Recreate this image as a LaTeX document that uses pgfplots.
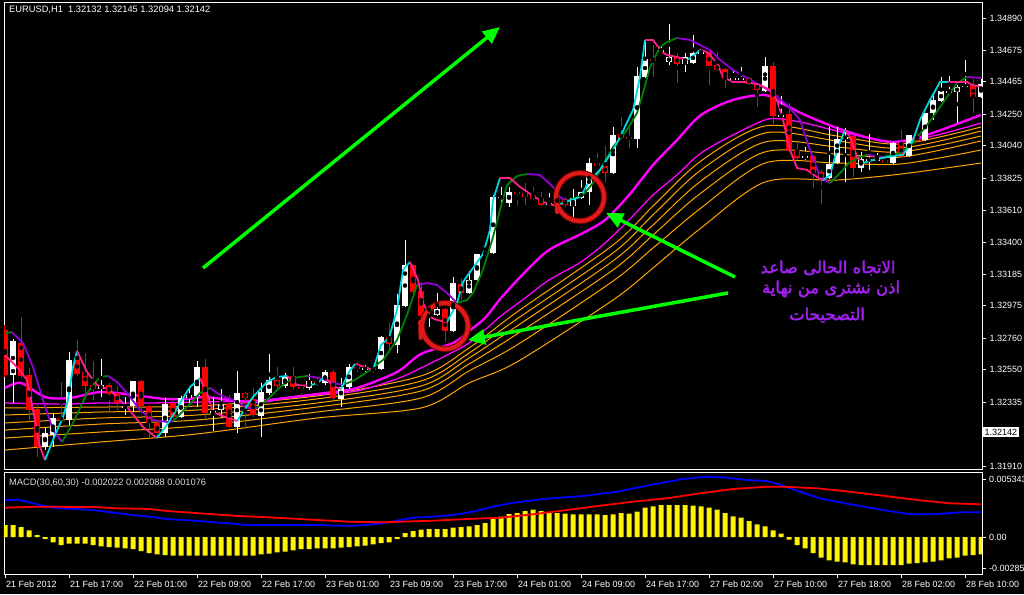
\documentclass[border=0pt]{standalone}
\usepackage{pgfplots}
\pgfplotsset{compat=1.18}
\usepackage{pgfplotstable}
\usepackage{fontspec}
\setmainfont{Liberation Sans}
\newfontfamily\arabicfont[Script=Arabic,FakeBold=2.6]{DejaVu Sans}
\TeXXeTstate=1
\usetikzlibrary{arrows.meta}
\definecolor{mtcyan}{RGB}{0,215,225}
\definecolor{mtpink}{RGB}{255,30,140}
\definecolor{mtgreen}{RGB}{0,128,0}
\definecolor{mtpurple}{RGB}{148,0,211}
\definecolor{mtmag}{RGB}{255,0,255}
\definecolor{mtorange}{RGB}{255,165,0}
\definecolor{mtred}{RGB}{255,0,0}
\definecolor{mtlime}{RGB}{0,255,0}
\definecolor{artext}{RGB}{160,32,240}
\definecolor{ringred}{RGB}{225,25,25}
\pgfplotsset{
  cy/.style={mtcyan, line width=1.8pt, line join=round},
  pk/.style={mtpink, line width=1.8pt, line join=round},
  gr/.style={mtgreen, line width=1.8pt, line join=round},
  pu/.style={mtpurple, line width=1.8pt, line join=round},
}
\pgfplotstableread{
i o h l c
1 1.32515 1.32755 1.32329 1.32741
5 1.32036 1.32163 1.32016 1.32129
6 1.32116 1.32262 1.32036 1.32229
8 1.32216 1.32668 1.32183 1.32615
12 1.32422 1.32622 1.32369 1.32449
15 1.32296 1.32369 1.32249 1.32309
16 1.32309 1.32475 1.32269 1.32475
20 1.32129 1.32362 1.32103 1.32322
22 1.32236 1.32376 1.32229 1.32362
23 1.32362 1.32435 1.32329 1.32382
24 1.32376 1.32608 1.32302 1.32568
26 1.32262 1.32369 1.32143 1.32276
27 1.32282 1.32422 1.32236 1.32322
29 1.32169 1.32542 1.32129 1.32395
32 1.32243 1.32462 1.32103 1.32402
33 1.32395 1.32655 1.32382 1.32482
35 1.32442 1.32529 1.32429 1.32502
38 1.32429 1.32522 1.32415 1.32475
40 1.32462 1.32549 1.32449 1.32535
42 1.32356 1.32495 1.32302 1.32435
43 1.32435 1.32588 1.32422 1.32568
45 1.32549 1.32582 1.32535 1.32562
47 1.32555 1.32775 1.32549 1.32768
49 1.32715 1.33054 1.32662 1.32981
50 1.32974 1.33413 1.32968 1.33247
53 1.32948 1.32981 1.32835 1.32954
54 1.32914 1.33061 1.32908 1.32954
56 1.32808 1.33167 1.32801 1.33127
58 1.33061 1.33207 1.33054 1.33147
59 1.33147 1.33307 1.33140 1.33320
60 1.33320 1.33393 1.33307 1.33327
61 1.33327 1.33712 1.33320 1.33699
62 1.33693 1.33766 1.33633 1.33699
63 1.33659 1.33766 1.33633 1.33732
68 1.33653 1.33726 1.33639 1.33659
71 1.33639 1.33752 1.33546 1.33693
72 1.33693 1.33812 1.33686 1.33732
73 1.33732 1.33959 1.33646 1.33925
76 1.33859 1.34165 1.33852 1.34112
79 1.34085 1.34564 1.34025 1.34504
80 1.34498 1.34750 1.34491 1.34617
82 1.34670 1.34697 1.34657 1.34677
83 1.34597 1.34850 1.34577 1.34631
85 1.34584 1.34657 1.34531 1.34631
86 1.34591 1.34777 1.34584 1.34657
87 1.34657 1.34677 1.34651 1.34664
91 1.34484 1.34544 1.34478 1.34491
92 1.34484 1.34564 1.34478 1.34491
95 1.34404 1.34631 1.34398 1.34571
97 1.34238 1.34371 1.34232 1.34245
100 1.33959 1.34032 1.33945 1.33972
103 1.33826 1.34165 1.33819 1.33919
104 1.33925 1.34165 1.33919 1.34085
105 1.34092 1.34158 1.33799 1.34098
107 1.33892 1.33999 1.33866 1.33952
108 1.33945 1.34118 1.33879 1.33952
109 1.33945 1.33992 1.33939 1.33952
111 1.33925 1.34065 1.33919 1.34058
113 1.33972 1.34112 1.33965 1.34112
115 1.34078 1.34258 1.34072 1.34258
116 1.34258 1.34378 1.34212 1.34345
117 1.34338 1.34498 1.34331 1.34404
118 1.34398 1.34504 1.34391 1.34404
119 1.34398 1.34444 1.34192 1.34431
120 1.34431 1.34611 1.34424 1.34438
122 1.34364 1.34484 1.34358 1.34451
}\bull
\pgfplotstableread{
i o h l c
0 1.32815 1.32848 1.32502 1.32515
2 1.32728 1.32901 1.32495 1.32509
3 1.32515 1.32562 1.32203 1.32282
4 1.32289 1.32316 1.31970 1.32036
7 1.32229 1.32469 1.32196 1.32223
9 1.32622 1.32748 1.32509 1.32522
10 1.32535 1.32662 1.32382 1.32442
11 1.32449 1.32608 1.32349 1.32422
13 1.32449 1.32462 1.32262 1.32389
14 1.32395 1.32442 1.32282 1.32329
17 1.32475 1.32482 1.32262 1.32309
18 1.32309 1.32316 1.32103 1.32196
19 1.32196 1.32216 1.32096 1.32129
21 1.32329 1.32342 1.32223 1.32236
25 1.32568 1.32622 1.32229 1.32262
28 1.32322 1.32382 1.32163 1.32169
30 1.32395 1.32402 1.32156 1.32362
31 1.32356 1.32429 1.32236 1.32249
34 1.32482 1.32568 1.32429 1.32442
36 1.32509 1.32568 1.32422 1.32435
37 1.32435 1.32449 1.32369 1.32422
39 1.32475 1.32495 1.32442 1.32462
41 1.32535 1.32549 1.32349 1.32362
44 1.32568 1.32602 1.32535 1.32555
46 1.32562 1.32575 1.32529 1.32549
48 1.32768 1.32861 1.32662 1.32721
51 1.33247 1.33254 1.33027 1.33067
52 1.33074 1.33134 1.32894 1.32908
55 1.32954 1.32961 1.32735 1.32808
57 1.33120 1.33160 1.33014 1.33061
64 1.33732 1.33739 1.33646 1.33726
65 1.33726 1.33792 1.33646 1.33699
66 1.33712 1.33766 1.33679 1.33686
67 1.33693 1.33732 1.33639 1.33646
69 1.33686 1.33712 1.33639 1.33666
70 1.33686 1.33699 1.33633 1.33646
74 1.33925 1.33992 1.33899 1.33905
75 1.33905 1.34038 1.33799 1.33859
77 1.34118 1.34232 1.34085 1.34092
78 1.34098 1.34165 1.34025 1.34085
81 1.34617 1.34710 1.34498 1.34611
84 1.34631 1.34657 1.34458 1.34584
88 1.34664 1.34670 1.34444 1.34571
89 1.34577 1.34664 1.34537 1.34544
90 1.34551 1.34557 1.34424 1.34484
93 1.34491 1.34498 1.34444 1.34451
94 1.34451 1.34457 1.34298 1.34411
96 1.34571 1.34597 1.34165 1.34238
98 1.34251 1.34324 1.33999 1.34005
99 1.34012 1.34058 1.33945 1.33959
101 1.33972 1.33979 1.33759 1.33859
102 1.33866 1.33879 1.33653 1.33819
106 1.34105 1.34125 1.33832 1.33892
110 1.33945 1.33959 1.33919 1.33925
112 1.34058 1.34145 1.33959 1.33965
114 1.34112 1.34125 1.34065 1.34072
121 1.34444 1.34484 1.34258 1.34364
}\bear
\pgfplotstableread{
i e1 e2 e3 e4 e5 e6
0 1.32296 1.32249 1.32196 1.32149 1.32096 1.32016
12 1.32302 1.32269 1.32229 1.32189 1.32136 1.32070
24 1.32309 1.32282 1.32249 1.32216 1.32176 1.32123
39 1.32376 1.32356 1.32329 1.32302 1.32269 1.32229
52 1.32509 1.32475 1.32442 1.32409 1.32362 1.32296
58 1.32695 1.32661 1.32628 1.32588 1.32542 1.32462
64 1.32934 1.32888 1.32841 1.32788 1.32715 1.32602
76 1.33380 1.33327 1.33274 1.33214 1.33140 1.33014
81 1.33639 1.33580 1.33513 1.33446 1.33360 1.33227
87 1.33939 1.33879 1.33806 1.33726 1.33626 1.33493
95 1.34172 1.34125 1.34065 1.33999 1.33925 1.33799
104 1.34105 1.34072 1.34032 1.33985 1.33925 1.33812
112 1.34052 1.34025 1.33999 1.33965 1.33919 1.33852
122 1.34165 1.34138 1.34105 1.34072 1.34012 1.33925
}\ribbon
\begin{document}
\begin{tikzpicture}[x=1pt,y=1pt]
\fill[black] (0,0) rectangle (1024,594);
% ---------------- main price panel ----------------
\begin{axis}[
  at={(4pt,125pt)}, anchor=south west,
  scale only axis, width=978pt, height=467pt,
  xmin=-0.125, xmax=122.125,
  ymin=1.318899, ymax=1.349964,
  axis line style={white, line width=0.8pt},
  xtick=\empty,
  ytick={1.34890,1.34675,1.34465,1.34250,1.34040,1.33825,1.33610,1.33400,1.33185,1.32975,1.32760,1.32550,1.32335,1.31910},
  yticklabels={1.34890,1.34675,1.34465,1.34250,1.34040,1.33825,1.33610,1.33400,1.33185,1.32975,1.32760,1.32550,1.32335,1.31910},
  ytick pos=right, yticklabel pos=right,
  tick align=outside, major tick length=4pt,
  tick style={white, line width=0.8pt},
  tick label style={font=\fontsize{9}{10}\selectfont, text=white},
  yticklabel style={anchor=west},
  scaled y ticks=false,
]
% ribbon (orange)
\foreach \col in {e6,e5,e4,e3,e2,e1}{
  \addplot[mtorange, line width=1pt, smooth] table[x=i, y=\col] {\ribbon};
}
% thin magenta
\addplot[mtmag, line width=1.3pt, smooth] coordinates {(0,1.32329) (7,1.32322) (12,1.32329) (18,1.32329) (25,1.32336) (30,1.32342) (35,1.32362) (40,1.32389) (44,1.32409) (49,1.32489) (52,1.32562) (56,1.32668) (58,1.32728) (60,1.32815) (62,1.32908) (65,1.33027) (68,1.33147) (72,1.33267) (75,1.33393) (78,1.33546) (81,1.33712) (84,1.33846) (87,1.33992) (91,1.34112) (95,1.34212) (97,1.34218) (100,1.34191) (104,1.34138) (108,1.34092) (112,1.34065) (117,1.34118) (122,1.34191)};
% thick magenta
\addplot[mtmag, line width=2.4pt, smooth] coordinates {(0,1.32429) (2,1.32462) (5,1.32369) (8,1.32362) (12,1.32402) (16,1.32382) (20,1.32356) (23,1.32356) (25,1.32369) (29,1.32342) (32,1.32336) (35,1.32362) (40,1.32395) (44,1.32429) (49,1.32535) (52,1.32655) (56,1.32728) (58,1.32808) (60,1.32894) (62,1.33027) (65,1.33200) (68,1.33347) (72,1.33453) (75,1.33546) (78,1.33712) (81,1.33912) (84,1.34078) (87,1.34245) (91,1.34345) (95,1.34378) (97,1.34325) (100,1.34245) (104,1.34158) (108,1.34092) (111,1.34065) (114,1.34092) (117,1.34145) (120,1.34205) (122,1.34245)};
% candles: wicks
\addplot[only marks, mark=none, error bars/.cd, y dir=both, y explicit, error mark=none, error bar style={draw=white, line width=1pt}] table[x=i, y expr={(\thisrow{h}+\thisrow{l})/2}, y error expr={(\thisrow{h}-\thisrow{l})/2}] {\bull};
\addplot[only marks, mark=none, error bars/.cd, y dir=both, y explicit, error mark=none, error bar style={draw=mtred, line width=1pt}] table[x=i, y expr={(\thisrow{h}+\thisrow{l})/2}, y error expr={(\thisrow{h}-\thisrow{l})/2}] {\bear};
% candles: bodies
\addplot[only marks, mark=none, error bars/.cd, y dir=both, y explicit, error mark=none, error bar style={draw=white, line width=5.5pt}] table[x=i, y expr={(\thisrow{o}+\thisrow{c})/2}, y error expr={max(abs(\thisrow{o}-\thisrow{c})/2,0.00004)}] {\bull};
\addplot[only marks, mark=none, error bars/.cd, y dir=both, y explicit, error mark=none, error bar style={draw=mtred, line width=5.5pt}] table[x=i, y expr={(\thisrow{o}+\thisrow{c})/2}, y error expr={max(abs(\thisrow{o}-\thisrow{c})/2,0.00004)}] {\bear};
% line B (green / purple)
\addplot[gr] coordinates {(0,1.32795) (0.875,1.32801)};
\addplot[pu] coordinates {(0.875,1.32801) (2.25,1.32728) (3.5,1.32568) (4.75,1.32349) (6,1.32149) (7.125,1.32070)};
\addplot[gr] coordinates {(7.125,1.32070) (8.5,1.32196) (10.25,1.32395) (11.875,1.32502) (12.875,1.32509)};
\addplot[pu] coordinates {(12.875,1.32509) (14,1.32469) (15.25,1.32395) (16.875,1.32282) (18.5,1.32216) (20.25,1.32203) (21,1.32209)};
\addplot[gr] coordinates {(21,1.32209) (22.75,1.32302) (24.375,1.32395) (25.625,1.32429)};
\addplot[pu] coordinates {(25.625,1.32429) (26.875,1.32382) (28.5,1.32349) (30.25,1.32296) (31.5,1.32296)};
\addplot[gr] coordinates {(31.5,1.32296) (32.75,1.32349) (34.375,1.32435) (36,1.32495) (37.75,1.32509)};
\addplot[pu] coordinates {(37.75,1.32509) (39.375,1.32495) (41,1.32462) (42.25,1.32449)};
\addplot[gr] coordinates {(42.25,1.32449) (43.75,1.32482) (45.625,1.32549) (47.25,1.32615) (49,1.32748) (50.25,1.32914) (51.5,1.33114)};
\addplot[pu] coordinates {(51.5,1.33114) (52.75,1.33127) (54,1.33114) (55.25,1.33061) (56.5,1.32994)};
\addplot[gr] coordinates {(56.5,1.32994) (57.75,1.33014) (58.5,1.33061) (59.75,1.33214) (61,1.33433) (61.875,1.33613) (62.75,1.33779) (64,1.33839) (65.25,1.33852)};
\addplot[pu] coordinates {(65.25,1.33852) (66.875,1.33846) (68.5,1.33766) (69.375,1.33699) (70.25,1.33673)};
\addplot[gr] coordinates {(70.25,1.33673) (72.25,1.33712) (73.5,1.33792) (74.375,1.33879) (76,1.34032) (77.75,1.34145) (79,1.34258) (79.75,1.34391) (80.625,1.34564) (81.875,1.34697) (82.75,1.34730) (84,1.34757)};
\addplot[pu] coordinates {(84,1.34757) (85.625,1.34744) (86.875,1.34710) (88.125,1.34677) (89.375,1.34611) (91,1.34544) (92.75,1.34491) (94.375,1.34444) (96,1.34391) (97.75,1.34311) (99.375,1.34212) (100.625,1.34012) (101.875,1.33832) (103.125,1.33792)};
\addplot[gr] coordinates {(103.125,1.33792) (104.375,1.33859) (105.625,1.33932) (106.875,1.33965) (107.75,1.33979)};
\addplot[pu] coordinates {(107.75,1.33979) (109.75,1.33965)};
\addplot[gr] coordinates {(109.75,1.33965) (111.875,1.33992) (113.5,1.34058) (114.75,1.34145) (116,1.34231) (117.75,1.34364) (119,1.34457) (120.25,1.34498)};
\addplot[pu] coordinates {(120.25,1.34498) (122,1.34491)};
% line A (cyan / pink)
\addplot[pk] coordinates {(0,1.32648) (1.5,1.32568) (2.75,1.32482) (3.5,1.32282) (4.375,1.32036) (5,1.31950)};
\addplot[cy] coordinates {(5,1.31950) (6,1.32083) (7.25,1.32236) (7.875,1.32349) (8.5,1.32568) (9,1.32675)};
\addplot[pk] coordinates {(9,1.32675) (10.25,1.32535) (11.5,1.32449) (13.125,1.32415) (14.375,1.32349) (15.25,1.32302) (17.25,1.32169) (19,1.32096)};
\addplot[cy] coordinates {(19,1.32096) (20.25,1.32183) (21.875,1.32329) (23.125,1.32435) (24.375,1.32495)};
\addplot[pk] coordinates {(24.375,1.32495) (25.25,1.32395) (26,1.32269) (26.875,1.32249) (28,1.32229) (29,1.32209)};
\addplot[cy] coordinates {(29,1.32209) (31,1.32369) (32.75,1.32469) (34,1.32502) (35.25,1.32509)};
\addplot[pk] coordinates {(35.25,1.32509) (36.5,1.32449) (38,1.32442)};
\addplot[cy] coordinates {(38,1.32442) (39,1.32462) (40,1.32502)};
\addplot[pk] coordinates {(40,1.32502) (41,1.32442) (42,1.32422)};
\addplot[cy] coordinates {(42,1.32422) (43,1.32535) (43.75,1.32588)};
\addplot[pk] coordinates {(43.75,1.32588) (45,1.32568) (46,1.32549)};
\addplot[cy] coordinates {(46,1.32549) (47,1.32715) (48,1.32761) (49,1.32948) (49.75,1.33214) (50.625,1.33267)};
\addplot[pk] coordinates {(50.625,1.33267) (51.625,1.33147) (52.25,1.32994) (53.125,1.32901) (54,1.32881) (55.25,1.32868)};
\addplot[cy] coordinates {(55.25,1.32868) (56.5,1.32994) (57.25,1.33134) (58.5,1.33227) (59.75,1.33320) (60.625,1.33480) (61,1.33679) (61.875,1.33825)};
\addplot[pk] coordinates {(61.875,1.33825) (63.125,1.33825) (64.375,1.33766) (66,1.33706) (67.25,1.33666) (68.5,1.33646) (69.375,1.33653)};
\addplot[cy] coordinates {(69.375,1.33653) (71.875,1.33699) (73.125,1.33812) (74.375,1.33879) (76,1.34012) (76.875,1.34098) (78.5,1.34278) (79.375,1.34498) (80,1.34744)};
\addplot[pk] coordinates {(80,1.34744) (81,1.34744) (82.125,1.34664) (82.75,1.34644) (84,1.34631) (85.25,1.34611)};
\addplot[cy] coordinates {(85.25,1.34611) (86,1.34637) (86.875,1.34677)};
\addplot[pk] coordinates {(86.875,1.34677) (87.75,1.34664) (89,1.34591) (89.75,1.34498) (91,1.34464) (92.75,1.34464) (94.375,1.34444) (95.625,1.34411) (96.5,1.34345) (97.25,1.34212) (98.125,1.34012) (99,1.33892) (100.25,1.33879) (101.5,1.33832) (102.25,1.33812)};
\addplot[cy] coordinates {(102.25,1.33812) (103.125,1.33846) (104,1.34012) (105,1.34145)};
\addplot[pk] coordinates {(105,1.34145) (105.625,1.34098) (106.5,1.33965) (107.25,1.33925)};
\addplot[cy] coordinates {(107.25,1.33925) (108.5,1.33945) (109.75,1.33959) (111,1.33972) (112.25,1.33979) (113.5,1.34078) (114.375,1.34212) (115.625,1.34345) (116.875,1.34464) (117.875,1.34464)};
\addplot[pk] coordinates {(117.875,1.34464) (120.25,1.34464) (121,1.34444) (122,1.34431)};
% annotations
\draw[mtlime, line width=3.5pt, -{Triangle[length=17pt,width=15pt]}] (axis cs:24.75,1.33227) -- (axis cs:61.875,1.34830);
\draw[mtlime, line width=3.5pt, -{Triangle[length=17pt,width=15pt]}] (axis cs:91.25,1.33167) -- (axis cs:75.125,1.33593);
\draw[mtlime, line width=3.5pt, -{Triangle[length=17pt,width=15pt]}] (axis cs:90.375,1.33061) -- (axis cs:57.875,1.32748);
\draw[red!45!black, line width=6pt] (axis cs:55,1.32841) circle[radius=23pt];
\draw[ringred, line width=4pt] (axis cs:55,1.32841) circle[radius=23pt];
\draw[ringred, line width=4pt, line cap=round] (axis cs:51.9,1.32868) -- (axis cs:51.95,1.32761);
\draw[red!45!black, line width=6pt] (axis cs:71.875,1.33699) circle[radius=24pt];
\draw[ringred, line width=4pt] (axis cs:71.875,1.33699) circle[radius=24pt];
\draw[ringred, line width=4pt, line cap=round] (axis cs:68.9,1.33693) -- (axis cs:69,1.33599);
\end{axis}
% ---------------- MACD panel ----------------
\begin{axis}[
  at={(4pt,20pt)}, anchor=south west,
  scale only axis, width=978pt, height=102pt,
  xmin=-0.125, xmax=122.125,
  ymin=-0.003408, ymax=0.005988,
  axis line style={white, line width=0.8pt},
  xtick={0,8,16,24,32,40,48,56,64,72,80,88,96,104,112,120},
  xticklabels={21 Feb 2012,21 Feb 17:00,22 Feb 01:00,22 Feb 09:00,22 Feb 17:00,23 Feb 01:00,23 Feb 09:00,23 Feb 17:00,24 Feb 01:00,24 Feb 09:00,24 Feb 17:00,27 Feb 02:00,27 Feb 10:00,27 Feb 18:00,28 Feb 02:00,28 Feb 10:00},
  xtick pos=bottom, xticklabel pos=bottom,
  ytick={0.005343,0,-0.00285},
  yticklabels={0.005343,0.00,-0.00285},
  ytick pos=right, yticklabel pos=right,
  tick align=outside, major tick length=3.5pt,
  tick style={white, line width=0.8pt},
  tick label style={font=\fontsize{9}{10}\selectfont, text=white},
  xticklabel style={anchor=north west, xshift=-2.5pt},
  yticklabel style={anchor=west},
  scaled y ticks=false, scaled x ticks=false,
]
\addplot[ybar, bar width=5pt, bar shift=0pt, fill=yellow, draw=none] coordinates {(0,0.001105) (1,0.001105) (2,0.000921) (3,0.000617) (4,0.000184) (5,-0.000184) (6,-0.000488) (7,-0.000737) (8,-0.000617) (9,-0.000617) (10,-0.000617) (11,-0.000737) (12,-0.000857) (13,-0.000921) (14,-0.000986) (15,-0.001041) (16,-0.001105) (17,-0.00129) (18,-0.001474) (19,-0.001594) (20,-0.001658) (21,-0.001723) (22,-0.001723) (23,-0.001723) (24,-0.001723) (25,-0.001723) (26,-0.001723) (27,-0.001723) (28,-0.001723) (29,-0.001723) (30,-0.001723) (31,-0.001723) (32,-0.001594) (33,-0.001538) (34,-0.001409) (35,-0.001354) (36,-0.001225) (37,-0.001105) (38,-0.001105) (39,-0.001041) (40,-0.001041) (41,-0.001041) (42,-0.000986) (43,-0.000921) (44,-0.000857) (45,-0.000801) (46,-0.000672) (47,-0.000553) (48,-0.000488) (49,-0.000184) (50,0.000368) (51,0.000553) (52,0.000672) (53,0.000737) (54,0.000737) (55,0.000737) (56,0.000857) (57,0.000921) (58,0.000986) (59,0.001105) (60,0.00129) (61,0.00175) (62,0.00187) (63,0.002119) (64,0.002211) (65,0.002395) (66,0.002515) (67,0.002395) (68,0.002275) (69,0.002211) (70,0.002146) (71,0.002091) (72,0.002091) (73,0.002091) (74,0.002091) (75,0.002027) (76,0.002091) (77,0.002211) (78,0.002146) (79,0.002331) (80,0.002699) (81,0.002828) (82,0.002948) (83,0.002948) (84,0.002948) (85,0.002948) (86,0.002883) (87,0.002828) (88,0.002699) (89,0.002515) (90,0.002211) (91,0.001907) (92,0.001778) (93,0.001474) (94,0.00117) (95,0.000986) (96,0.000617) (97,0.000304) (98,-0.000249) (99,-0.000737) (100,-0.001041) (101,-0.001474) (102,-0.001907) (103,-0.002146) (104,-0.002275) (105,-0.002331) (106,-0.002515) (107,-0.002579) (108,-0.002579) (109,-0.002579) (110,-0.002579) (111,-0.002579) (112,-0.002579) (113,-0.00246) (114,-0.002395) (115,-0.002331) (116,-0.002275) (117,-0.002146) (118,-0.001962) (119,-0.001907) (120,-0.001723) (121,-0.001658) (122,-0.001594)};
\addplot[blue, line width=1.8pt] coordinates {(0,0.003408) (1.875,0.003408) (4.375,0.002948) (6,0.002699) (11,0.002487) (13.125,0.002275) (16,0.002027) (18.125,0.00187) (20.25,0.001658) (24.375,0.001474) (27.75,0.001262) (30.25,0.001105) (39.375,0.001105) (41,0.001041) (44,0.001041) (47.25,0.001262) (49.375,0.001566) (51,0.001778) (53.5,0.00187) (56,0.002027) (58.5,0.002331) (61,0.002791) (63.125,0.003104) (64,0.003197) (68.125,0.003565) (72.25,0.003777) (76.5,0.004173) (80.625,0.00479) (84.75,0.005343) (87.75,0.005555) (90.25,0.005463) (92.75,0.005251) (95.25,0.005159) (97.25,0.004726) (99.375,0.004173) (101.875,0.003565) (105.625,0.003012) (109.75,0.002487) (113.125,0.002091) (116,0.002091) (119.375,0.002275) (122,0.002275)};
\addplot[red, line width=1.8pt] coordinates {(0,0.002699) (4,0.002791) (11,0.002764) (14,0.002644) (18.125,0.002579) (20.25,0.002395) (24.375,0.002183) (28.5,0.001962) (34,0.001778) (39,0.001566) (43.125,0.001409) (47.25,0.001354) (49.375,0.001409) (53.5,0.001502) (57.75,0.001658) (61.875,0.001778) (66,0.002091) (70.25,0.002487) (74.375,0.002883) (78.5,0.003252) (82.75,0.003565) (86.875,0.004026) (91,0.004422) (95.25,0.004634) (97.25,0.004634) (101.5,0.004486) (105.625,0.004173) (109.75,0.003805) (114,0.003408) (118.125,0.003104) (122,0.003012)};
\end{axis}
% texts
\node[anchor=base west, text=white, inner sep=0pt, font=\fontsize{9.3}{10}\selectfont] at (9,581) {EURUSD,H1\ \ 1.32132 1.32145 1.32094 1.32142};
\node[anchor=base west, text=white!85!black, inner sep=0pt, font=\fontsize{9.3}{10}\selectfont] at (9,109) {MACD(30,60,30) -0.002022 0.002088 0.001076};
\node[anchor=west, fill=white, text=black, inner sep=1.5pt, font=\fontsize{9}{10}\selectfont] at (983,162) {1.32142};
\node[text=artext, font=\arabicfont\fontsize{16.5}{18}\selectfont] at (828,326) {\beginR الاتجاه الحالى صاعد\endR};
\node[text=artext, font=\arabicfont\fontsize{16.5}{18}\selectfont] at (831,305) {\beginR اذن نشترى من نهاية\endR};
\node[text=artext, font=\arabicfont\fontsize{16.5}{18}\selectfont] at (827,279) {\beginR التصحيحات\endR};
\pgfresetboundingbox
\useasboundingbox (0,0) rectangle (1024,594);
\end{tikzpicture}
\end{document}
